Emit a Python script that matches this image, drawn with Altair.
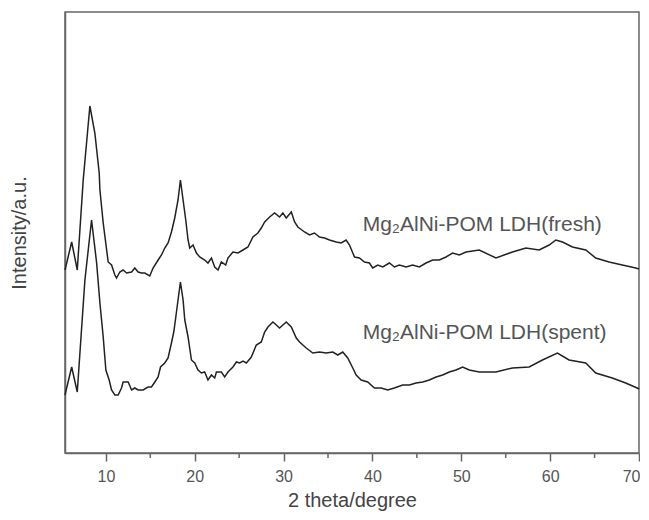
import altair as alt
import pandas as pd

# 2 theta (degree) and intensity (a.u.)
fresh_x = [5.4, 6.15, 6.78, 7.45, 8.2, 8.76, 9.25, 9.33, 9.70, 10.26, 10.64, 11.01, 11.20, 11.57,
           11.94, 12.33, 12.89, 13.26, 13.63, 14.01, 14.38, 14.94, 15.31, 15.88, 16.26, 16.63,
           17.0, 17.38, 17.75, 18.12, 18.39, 18.69, 18.99, 19.25, 19.44, 19.81, 20.19, 20.56,
           21.12, 21.49, 21.88, 22.25, 22.62, 23.0, 23.48, 23.74, 24.30, 24.87, 25.43, 25.99,
           26.55, 27.11, 27.49, 27.87, 28.43, 28.99, 29.55, 29.92, 30.30, 30.87, 31.24, 31.61,
           32.36, 32.92, 33.48, 34.04, 34.61, 35.17, 35.92, 36.48, 37.04, 37.42, 37.98, 38.54,
           39.10, 39.66, 40.03, 40.60, 41.16, 41.91, 42.47, 43.03, 43.79, 44.52, 45.28, 46.03,
           46.78, 47.53, 48.28, 49.02, 49.78, 50.53, 52.02, 53.90, 55.76, 57.27, 58.76, 59.89,
           60.64, 61.39, 62.51, 64.01, 65.13, 66.63, 68.12, 69.63, 70.0]
fresh_y = [183, 211, 183, 273, 347, 320, 280, 263, 230, 191, 188, 178, 175, 181,
           183, 180, 181, 185, 181, 180, 180, 177, 185, 193, 198, 205,
           210, 221, 235, 253, 273, 253, 233, 213, 205, 208, 200, 196,
           193, 190, 195, 186, 183, 191, 188, 195, 201, 200, 203, 206,
           216, 220, 225, 231, 236, 240, 236, 240, 235, 241, 231, 226,
           221, 218, 220, 216, 215, 213, 211, 210, 213, 208, 196, 195,
           191, 190, 185, 188, 186, 190, 186, 188, 186, 188, 186, 190,
           193, 193, 196, 200, 198, 201, 203, 195, 201, 205, 203, 208,
           213, 211, 206, 203, 195, 191, 188, 185, 184]

spent_x = [5.4, 6.15, 6.78, 7.64, 8.39, 8.96, 9.33, 9.70, 10.0, 10.37, 10.64, 11.01, 11.38, 11.76,
           11.94, 12.51, 12.89, 13.26, 13.63, 14.19, 14.75, 15.13, 15.51, 15.88, 16.15, 16.63,
           17.0, 17.38, 17.64, 17.87, 18.12, 18.39, 18.69, 18.88, 19.25, 19.63, 20.0, 20.37,
           20.75, 21.12, 21.49, 21.88, 22.25, 22.44, 23.0, 23.37, 23.74, 24.30, 24.69, 25.06,
           25.43, 25.81, 26.37, 26.93, 27.49, 27.87, 28.24, 28.80, 29.18, 29.55, 30.30, 30.87,
           31.43, 31.80, 32.55, 33.29, 34.04, 34.80, 35.54, 36.10, 36.66, 37.22, 37.79, 38.17,
           38.73, 39.47, 40.22, 40.98, 41.72, 42.47, 43.40, 44.16, 44.91, 45.65, 46.40, 47.16,
           47.90, 48.65, 49.40, 50.15, 50.90, 52.02, 53.90, 55.76, 57.64, 59.13, 60.82, 62.13,
           64.01, 65.13, 66.99, 68.50, 69.80, 70.0]
spent_y = [58, 86, 61, 173, 233, 190, 150, 116, 83, 73, 63, 58, 58, 65,
           71, 71, 63, 65, 63, 63, 66, 66, 71, 76, 86, 90,
           95, 110, 121, 136, 153, 171, 153, 133, 116, 93, 90, 83,
           80, 81, 73, 78, 75, 81, 81, 76, 81, 86, 91, 90,
           92, 90, 96, 108, 111, 121, 126, 131, 128, 125, 131, 126,
           115, 111, 105, 100, 101, 100, 101, 98, 101, 95, 85, 78,
           73, 71, 65, 65, 63, 65, 68, 68, 70, 71, 73, 76,
           78, 81, 83, 86, 83, 81, 81, 85, 86, 93, 100, 93,
           90, 80, 75, 70, 65, 64]

minor_ticks = [15, 25, 35, 45, 55, 65]

label_text = ["Mg\u2082AlNi-POM LDH(fresh)", "Mg\u2082AlNi-POM LDH(spent)"]
label_x = [38.9, 38.9]
label_y = [228, 120]

df = pd.concat([
    pd.DataFrame({"theta": fresh_x, "intensity": fresh_y, "sample": "fresh"}),
    pd.DataFrame({"theta": spent_x, "intensity": spent_y, "sample": "spent"}),
])
labels = pd.DataFrame({"theta": label_x, "intensity": label_y, "text": label_text})
minor = pd.DataFrame({"theta": minor_ticks})

axis_color = "#666666"
FONT = "Liberation Sans"

xscale = alt.Scale(domain=[5.4, 70], nice=False, zero=False)
yscale = alt.Scale(domain=[0, 441], nice=False, zero=True)

lines = alt.Chart(df).mark_line(color="#222222", strokeWidth=1.5).encode(
    x=alt.X("theta:Q", scale=xscale,
            axis=alt.Axis(title="2 theta/degree", values=list(range(10, 71, 10)),
                          tickSize=8, grid=False, domainColor=axis_color, tickColor=axis_color,
                          domainWidth=1.5, tickWidth=1.5,
                          labelColor="#555555", labelFontSize=16, labelFont=FONT, labelPadding=7,
                          labelFlush=True, labelFlushOffset=1,
                          titleColor="#444444", titleFontSize=20, titleFont=FONT,
                          titleFontWeight="normal", titlePadding=6)),
    y=alt.Y("intensity:Q", scale=yscale,
            axis=alt.Axis(title="Intensity/a.u.", labels=False, ticks=False, grid=False,
                          domainColor=axis_color, domainWidth=1.5,
                          titleColor="#444444", titleFontSize=20, titleFont=FONT,
                          titleFontWeight="normal", titlePadding=36)),
    detail="sample:N",
)

minor_rules = alt.Chart(minor).mark_rule(color=axis_color, strokeWidth=1.5).encode(
    x=alt.X("theta:Q", scale=xscale),
    y=alt.value(441),
    y2=alt.value(446),
)

texts = alt.Chart(labels).mark_text(align="left", baseline="middle", fontSize=21,
                                    font=FONT, color="#555555").encode(
    x=alt.X("theta:Q", scale=xscale),
    y=alt.Y("intensity:Q", scale=yscale),
    text="text:N",
)

chart = alt.layer(lines, minor_rules, texts).properties(
    width=574, height=441,
    autosize=alt.AutoSizeParams(type="none"),
    padding={"left": 57, "top": 4, "right": 1, "bottom": 59},
).configure_view(stroke=axis_color, strokeWidth=1.5)

chart.save("out.html", embed_options={"renderer": "svg", "actions": False})
